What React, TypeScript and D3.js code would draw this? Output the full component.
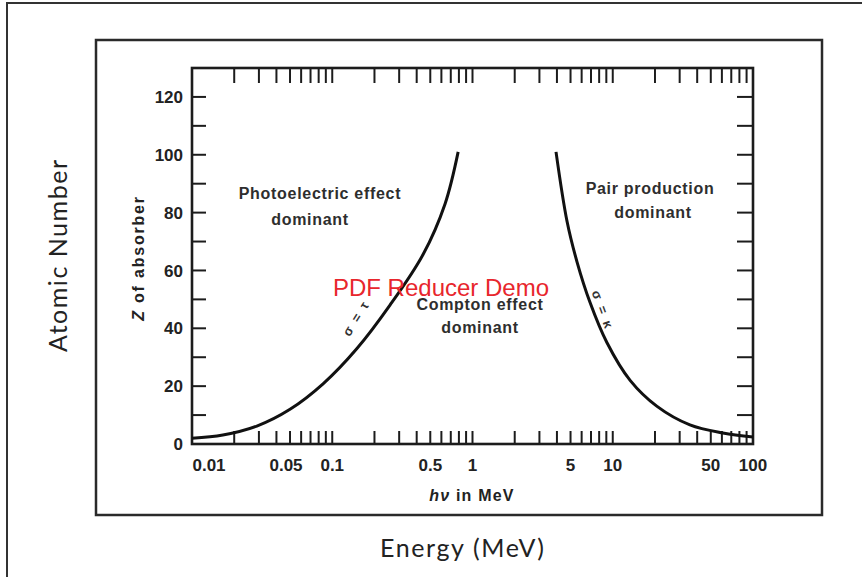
import React from "react";
import * as d3 from "d3";

// ---- data ----
const photoComptonE = [0.01, 0.0166, 0.029, 0.05, 0.086, 0.15, 0.258, 0.444, 0.637, 0.79];
const photoComptonZ = [2, 3.1, 6.2, 12, 20.8, 33, 48, 65.5, 83, 101];
const comptonPairE = [3.94, 4.72, 5.56, 6.88, 9.1, 13.3, 20.7, 35.5, 61, 100];
const comptonPairZ = [101, 77, 63, 49, 35, 22, 13, 6.6, 3.8, 2.4];
const xTickValues = [0.01, 0.05, 0.1, 0.5, 1, 5, 10, 50, 100];
const xTickLabels = ["0.01", "0.05", "0.1", "0.5", "1", "5", "10", "50", "100"];
const yTickValues = [0, 20, 40, 60, 80, 100, 120];
const yMinorValues = [0, 10, 20, 30, 40, 50, 60, 70, 80, 90, 100, 110, 120];

const W = 862;
const H = 577;

export default function App() {
  const x = d3.scaleLog().domain([0.01, 100]).range([192, 753]);
  const y = d3.scaleLinear().domain([0, 130]).range([444, 68]);
  const minorX = x.ticks().filter((v) => v > 0.0100001 && v < 99.999);

  const line = d3
    .line<[number, number]>()
    .x((d) => x(d[0]))
    .y((d) => y(d[1]))
    .curve(d3.curveCatmullRom.alpha(0.5));

  const left = photoComptonE.map((e, i) => [e, photoComptonZ[i]] as [number, number]);
  const right = comptonPairE.map((e, i) => [e, comptonPairZ[i]] as [number, number]);

  const x0 = x(0.01), x1 = x(100), yb = y(0), yt = y(130);
  const ink = "#1c1c1c";
  const sans = "'Liberation Sans', Arial, sans-serif";
  const calibri = "Lato, 'Open Sans', sans-serif";

  return (
    <svg
      width={W}
      height={H}
      style={{ position: "absolute", left: 0, top: 0, background: "#fff" }}
    >
      {/* outer slide frame */}
      <rect x={7} y={3} width={W + 20} height={H + 20} fill="none" stroke="#333" strokeWidth={2} />
      {/* inner picture frame */}
      <rect x={96} y={40} width={726} height={475} fill="none" stroke="#2a2a2a" strokeWidth={2.5} />

      {/* axes box */}
      <rect x={x0} y={yt} width={x1 - x0} height={yb - yt} fill="none" stroke={ink} strokeWidth={2.6} />

      {/* x ticks bottom & top */}
      {minorX.map((v, i) => (
        <g key={"xt" + i}>
          <line x1={x(v)} x2={x(v)} y1={yb} y2={yb - 13} stroke={ink} strokeWidth={2} />
          <line x1={x(v)} x2={x(v)} y1={yt} y2={yt + 15} stroke={ink} strokeWidth={2} />
        </g>
      ))}

      {/* y ticks left & right */}
      {yMinorValues.map((v, i) => (
        <g key={"yt" + i}>
          <line x1={x0} x2={x0 + 14} y1={y(v)} y2={y(v)} stroke={ink} strokeWidth={2} />
          <line x1={x1} x2={x1 - 16} y1={y(v)} y2={y(v)} stroke={ink} strokeWidth={2} />
        </g>
      ))}

      {/* y tick labels */}
      {yTickValues.map((v) => (
        <text
          key={"yl" + v}
          x={x0 - 9}
          y={y(v)}
          dy="0.36em"
          textAnchor="end"
          fontFamily={sans}
          fontWeight="bold"
          fontSize={17}
          fill="#222"
        >
          {v}
        </text>
      ))}

      {/* x tick labels */}
      {xTickValues.map((v, i) => (
        <text
          key={"xl" + v}
          x={x(v) + (i === 0 ? 17 : i === 1 ? -4 : 0)}
          y={yb + 21}
          dy="0.36em"
          textAnchor="middle"
          fontFamily={sans}
          fontWeight="bold"
          fontSize={17}
          fill="#222"
        >
          {xTickLabels[i]}
        </text>
      ))}

      {/* axis titles of the figure */}
      <text
        x={472}
        y={495}
        dy="0.36em"
        textAnchor="middle"
        fontFamily={sans}
        fontWeight="bold"
        fontSize={16}
        letterSpacing={1.2}
        fill="#222"
      >
        <tspan fontStyle="italic">hν</tspan> in MeV
      </text>
      <text
        transform="translate(138,258) rotate(-90)"
        dy="0.36em"
        textAnchor="middle"
        fontFamily={sans}
        fontWeight="bold"
        fontSize={16}
        letterSpacing={1.8}
        fill="#222"
      >
        <tspan fontStyle="italic">Z</tspan> of absorber
      </text>

      {/* curves */}
      <path d={line(left) || ""} fill="none" stroke="#111" strokeWidth={3} />
      <path d={line(right) || ""} fill="none" stroke="#111" strokeWidth={3} />

      {/* region labels */}
      <g fontFamily={sans} fontWeight="bold" fontSize={16} fill="#2e2e2e" letterSpacing={0.7} textAnchor="middle">
        <text x={320} y={193} dy="0.36em">Photoelectric effect</text>
        <text x={310} y={219} dy="0.36em">dominant</text>
        <text x={480} y={304} dy="0.36em">Compton effect</text>
        <text x={480} y={327} dy="0.36em">dominant</text>
        <text x={650} y={188} dy="0.36em">Pair production</text>
        <text x={653} y={212} dy="0.36em">dominant</text>
      </g>

      {/* curve labels */}
      <text
        transform="translate(356,318) rotate(-58)"
        dy="0.36em"
        textAnchor="middle"
        fontFamily={sans}
        fontWeight="bold"
        fontSize={13}
        letterSpacing={2}
        fill="#333"
      >
        σ = τ
      </text>
      <text
        transform="translate(603,310) rotate(70)"
        dy="0.36em"
        textAnchor="middle"
        fontFamily={sans}
        fontWeight="bold"
        fontSize={13}
        letterSpacing={2}
        fill="#333"
      >
        σ = κ
      </text>

      {/* watermark */}
      <text
        x={441}
        y={287}
        dy="0.36em"
        textAnchor="middle"
        fontFamily={sans}
        fontSize={24}
        fill="#e8262d"
      >
        PDF Reducer Demo
      </text>

      {/* slide axis titles */}
      <text
        transform="translate(58,256) rotate(-90)"
        dy="0.36em"
        textAnchor="middle"
        fontFamily={calibri}
        fontSize={25}
        textLength={192}
        lengthAdjust="spacing"
        fill="#222"
      >
        Atomic Number
      </text>
      <text
        x={462}
        y={548}
        dy="0.36em"
        textAnchor="middle"
        fontFamily={calibri}
        fontSize={25}
        textLength={164}
        lengthAdjust="spacing"
        fill="#222"
      >
        Energy (MeV)
      </text>
    </svg>
  );
}
